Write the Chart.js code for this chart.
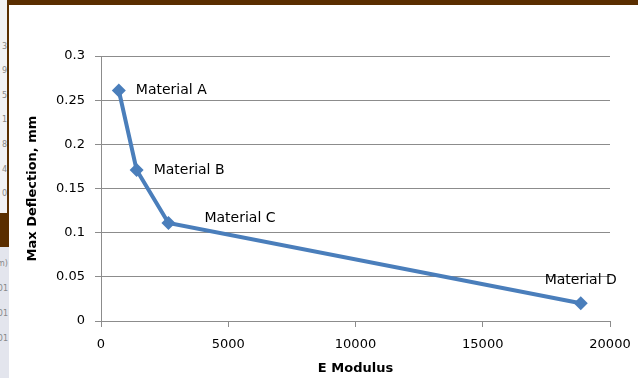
<!DOCTYPE html>
<html>
<head>
<meta charset="utf-8">
<script src="https://cdn.jsdelivr.net/npm/chart.js@4"></script>
<style>
  html, body { margin: 0; padding: 0; }
  body { width: 638px; height: 378px; position: relative; overflow: hidden; background: #ffffff; font-family: "DejaVu Sans", sans-serif; }
  .strip { position: absolute; left: 0; top: 0; width: 8px; height: 213px; background: #f2f2f4; overflow: hidden; }
  .strip2 { position: absolute; left: 0; top: 247px; width: 9px; height: 131px; background: #e3e5ed; overflow: hidden; }
  .strip span, .strip2 span { position: absolute; right: 1px; font-size: 8px; color: #888; }
  .bar { position: absolute; left: 8px; top: 0; width: 630px; height: 5px; background: #5a2e00; }
  .edge { position: absolute; left: 7px; top: 0; width: 2px; height: 213px; background: #5a2e00; }
  .block { position: absolute; left: 0; top: 213px; width: 9px; height: 34px; background: #5a2e00; }
  #wrap { position: absolute; left: 9px; top: 5px; width: 629px; height: 373px; }
</style>
</head>
<body>
<div class="strip">
  <span style="top:42px">3</span><span style="top:66px">9</span><span style="top:91px">5</span>
  <span style="top:115px">1</span><span style="top:140px">8</span><span style="top:165px">4</span><span style="top:189px">0</span>
</div>
<div class="strip2">
  <span style="top:12px">m)</span><span style="top:37px">01</span><span style="top:62px">01</span><span style="top:87px">01</span>
</div>
<div class="bar"></div>
<div class="edge"></div>
<div class="block"></div>
<div id="wrap"><canvas id="chart" width="629" height="373"></canvas></div>
<script>
const materials = ["Material A", "Material B", "Material C", "Material D"];
const eModulus = [700, 1400, 2650, 18850];
const maxDeflection = [0.261, 0.171, 0.111, 0.02];
const xTickLabels = ["0", "5000", "10000", "15000", "20000"];
const yTickLabels = ["0", "0.05", "0.1", "0.15", "0.2", "0.25", "0.3"];

const blue = "#4a7ebb";
const gridColor = "#8c8c8c";

// label offsets relative to each point: [dx, dy, align]
const labelPos = [[17, 0, "left"], [17, 0, "left"], [36, -5, "left"], [0, -23, "center"]];

const pointLabels = {
  id: "pointLabels",
  afterDatasetsDraw(chart) {
    const ctx = chart.ctx;
    const meta = chart.getDatasetMeta(0);
    ctx.save();
    ctx.font = "14px 'DejaVu Sans'";
    ctx.fillStyle = "#000000";
    ctx.textBaseline = "middle";
    meta.data.forEach((pt, i) => {
      const p = labelPos[i];
      ctx.textAlign = p[2];
      ctx.fillText(materials[i], pt.x + p[0], pt.y + p[1]);
    });
    ctx.restore();
  }
};

new Chart(document.getElementById("chart"), {
  type: "scatter",
  data: {
    datasets: [{
      data: eModulus.map((x, i) => ({ x: x, y: maxDeflection[i] })),
      showLine: true,
      borderColor: blue,
      backgroundColor: blue,
      borderWidth: 4,
      pointStyle: "rectRot",
      pointRadius: 7,
      pointBorderWidth: 0,
      pointHoverRadius: 7
    }]
  },
  options: {
    responsive: false,
    animation: false,
    layout: { autoPadding: false, padding: { top: 51, right: 28, left: 0, bottom: 0 } },
    plugins: { legend: { display: false }, tooltip: { enabled: false } },
    scales: {
      x: {
        type: "linear",
        min: 0,
        max: 20000,
        afterFit: s => { s.height = 57; s.paddingLeft = 0; s.paddingRight = 0; },
        ticks: {
          stepSize: 5000,
          padding: 10,
          color: "#000000",
          font: { family: "DejaVu Sans", size: 13 },
          maxRotation: 0,
          callback: (v, i) => xTickLabels[i]
        },
        grid: { drawOnChartArea: false, tickLength: 6, color: gridColor, lineWidth: 1 },
        border: { color: gridColor, width: 1 },
        title: {
          display: true,
          text: "E Modulus",
          color: "#000000",
          font: { family: "DejaVu Sans", size: 13, weight: "bold" },
          padding: { top: 0, bottom: 2 }
        }
      },
      y: {
        min: 0,
        max: 0.3,
        afterFit: s => { s.width = 92; s.paddingTop = 0; s.paddingBottom = 0; },
        ticks: {
          stepSize: 0.05,
          padding: 10,
          color: "#000000",
          font: { family: "DejaVu Sans", size: 13 },
          callback: (v, i) => yTickLabels[i]
        },
        grid: { tickLength: 6, color: gridColor, lineWidth: 1 },
        border: { color: gridColor, width: 1 },
        title: {
          display: true,
          text: "Max Deflection, mm",
          color: "#000000",
          font: { family: "DejaVu Sans", size: 13, weight: "bold" },
          padding: { top: 16, bottom: 0 }
        }
      }
    }
  },
  plugins: [pointLabels]
});
</script>
</body>
</html>
